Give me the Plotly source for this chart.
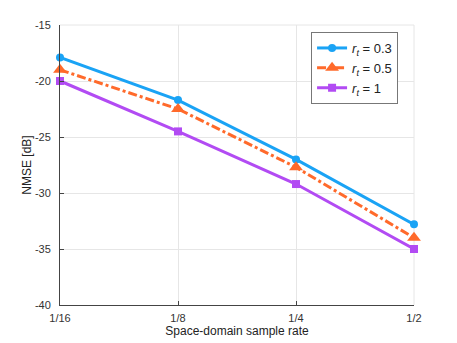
import plotly.graph_objects as go

rates = ["1/16", "1/8", "1/4", "1/2"]
nmse_r03 = [-17.9, -21.7, -27.0, -32.8]
nmse_r05 = [-19.0, -22.5, -27.7, -34.0]
nmse_r1 = [-20.0, -24.5, -29.2, -35.0]
y_ticks = [-40, -35, -30, -25, -20, -15]

xs = list(range(len(rates)))

series = [
    ("<i>r</i><sub><i>t</i></sub> = 0.3", nmse_r03, "#1AA3F5", "solid", "circle", 8),
    ("<i>r</i><sub><i>t</i></sub> = 0.5", nmse_r05, "#FF6A2B", "dashdot", "triangle-up", 12),
    ("<i>r</i><sub><i>t</i></sub> = 1", nmse_r1, "#B24BF3", "solid", "square", 8),
]

fig = go.Figure()
for name, vals, color, dash, sym, size in series:
    fig.add_trace(go.Scatter(
        x=xs, y=vals, name=name, mode="lines+markers",
        line=dict(color=color, width=3, dash=dash),
        marker=dict(symbol=sym, size=size, color=color),
        cliponaxis=False,
    ))

# page body adds an 8px offset, so the figure is sized to fit the window
axis_font = dict(family="Liberation Sans, Arial, sans-serif", size=11, color="#333333")
fig.update_layout(
    width=449, height=335,
    margin=dict(l=52, r=43, t=17, b=38),
    paper_bgcolor="white",
    plot_bgcolor="white",
    font=axis_font,
    showlegend=True,
    legend=dict(
        x=0.955, y=0.975, xanchor="right", yanchor="top",
        bgcolor="white", bordercolor="#777777", borderwidth=1,
        font=dict(family="Liberation Sans, Arial, sans-serif", size=13, color="#222222"),
        tracegroupgap=0, itemwidth=30,
    ),
    xaxis=dict(
        range=[0, 3], tickvals=xs, ticktext=rates,
        showgrid=True, gridcolor="#E6E6E6", gridwidth=1,
        showline=True, linecolor="#444444", linewidth=1, mirror=False,
        ticks="inside", ticklen=4, tickcolor="#444444",
        ticklabelstandoff=3,
        zeroline=False, automargin=False,
        title=dict(text="Space-domain sample rate", standoff=2,
                   font=dict(size=12, color="#222222")),
    ),
    yaxis=dict(
        range=[-40, -15], tickvals=y_ticks, ticktext=[str(v) for v in y_ticks],
        showgrid=True, gridcolor="#E6E6E6", gridwidth=1,
        showline=True, linecolor="#444444", linewidth=1, mirror=False,
        ticks="inside", ticklen=4, tickcolor="#444444",
        ticklabelstandoff=6,
        zeroline=False, automargin=False,
        title=dict(text="NMSE [dB]", standoff=0,
                   font=dict(size=12, color="#222222")),
    ),
)
# light box on top and right
fig.add_shape(type="line", xref="paper", yref="paper", x0=0, x1=1, y0=1, y1=1,
              line=dict(color="#E6E6E6", width=1), layer="below")
fig.add_shape(type="line", xref="paper", yref="paper", x0=1, x1=1, y0=0, y1=1,
              line=dict(color="#E6E6E6", width=1), layer="below")

fig.write_html("out.html")
